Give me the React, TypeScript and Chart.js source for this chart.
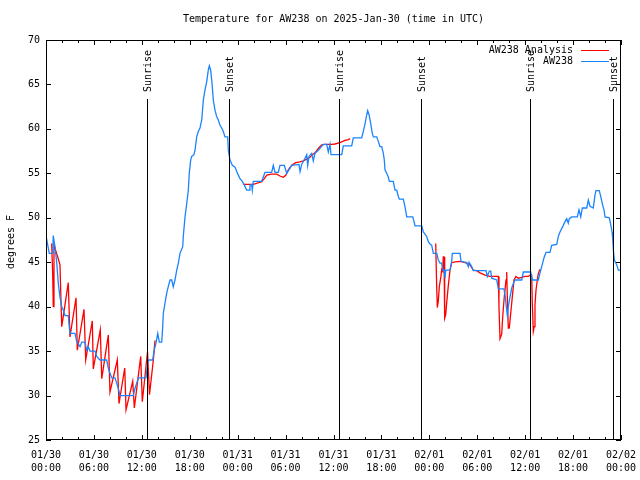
import { useEffect, useRef } from 'react';
import { Chart, registerables } from 'chart.js';

Chart.register(...registerables);

const chartTitle = 'Temperature for AW238 on 2025-Jan-30 (time in UTC)';
const yAxisTitle = 'degrees F';

// x axis: hours since 2025-01-30 00:00 UTC
const xTickHours = [0, 6, 12, 18, 24, 30, 36, 42, 48, 54, 60, 66, 72];
const xTickDates = ['01/30', '01/30', '01/30', '01/30', '01/31', '01/31', '01/31', '01/31', '02/01', '02/01', '02/01', '02/01', '02/02'];
const xTickTimes = ['00:00', '06:00', '12:00', '18:00', '00:00', '06:00', '12:00', '18:00', '00:00', '06:00', '12:00', '18:00', '00:00'];
const yTickValues = [25, 30, 35, 40, 45, 50, 55, 60, 65, 70];

const sunEventLabels = ['Sunrise', 'Sunset', 'Sunrise', 'Sunset', 'Sunrise', 'Sunset'];
const sunEventHours = [12.66, 22.96, 36.7, 47.0, 60.64, 71.04];

const seriesNames = ['AW238 Analysis', 'AW238'];
const seriesColors = ['#ff0000', '#1a84ff'];

// AW238 observations: [hour, degrees F]
const aw238Obs: [number, number][] = [
  [0, 48], [0.41, 46], [0.84, 46], [0.91, 48], [1.13, 46.7], [1.34, 45], [1.54, 42.6], [1.75, 41.1], [1.97, 40], [2.17, 39.6],
  [2.38, 39], [2.79, 39], [2.92, 37.7], [3.01, 37], [3.63, 37], [3.84, 36.1], [4.26, 35.5], [4.47, 36], [4.88, 36], [5.10, 35.1],
  [5.30, 35.5], [5.51, 35], [6.14, 35], [6.35, 34.4], [6.76, 34], [7.60, 34], [7.80, 33.1], [8.01, 32.5], [8.23, 32], [8.64, 32],
  [8.85, 31.4], [9.05, 30.8], [9.27, 30], [10.93, 30], [11.14, 30.8], [11.36, 31.4], [11.56, 32], [12.52, 32], [12.68, 33.2], [12.81, 34],
  [13.36, 34], [13.52, 35], [13.77, 35.9], [13.99, 37], [14.19, 36], [14.49, 36], [14.61, 37.7], [14.69, 39.25], [14.90, 40.4], [15.11, 41.5],
  [15.31, 42.25], [15.53, 43], [15.74, 43], [15.94, 42.25], [16.15, 43], [16.37, 44.1], [16.57, 44.9], [16.78, 46], [17.12, 46.75], [17.19, 47.9],
  [17.41, 50.1], [17.62, 51.6], [17.82, 53.1], [17.94, 55], [18.12, 56.5], [18.24, 56.9], [18.53, 57.1], [18.66, 57.6], [18.87, 59.1], [19.07, 59.7],
  [19.28, 60.1], [19.50, 61], [19.70, 63.25], [19.91, 64.4], [20.12, 65.3], [20.32, 66.6], [20.45, 67.1], [20.62, 66.6], [20.79, 65.1], [20.95, 63.25],
  [21.16, 62.1], [21.37, 61.4], [21.58, 61], [21.79, 60.4], [22.00, 60.1], [22.20, 59.7], [22.41, 59.1], [22.75, 59.1], [22.83, 57.6], [23.04, 56.5],
  [23.33, 55.9], [23.67, 55.7], [23.88, 55.2], [24.08, 54.8], [24.29, 54.4], [24.58, 54.1], [24.83, 53.7], [25.13, 53.1], [25.42, 53.1], [25.54, 53.7],
  [25.76, 53.7], [25.83, 53.1], [25.96, 54.1], [27.01, 54.1], [27.42, 55.1], [28.26, 55.1], [28.46, 55.9], [28.68, 55.1], [29.09, 55.1], [29.30, 55.9],
  [29.84, 55.9], [30.14, 55], [30.77, 55.9], [31.68, 56], [31.81, 55.2], [32.02, 56], [32.43, 56.7], [32.65, 57.1], [32.77, 55.9], [32.93, 56.9],
  [33.27, 57.25], [33.47, 56.4], [33.68, 57.25], [34.10, 57.6], [34.72, 58.25], [35.15, 58.25], [35.35, 57.4], [35.56, 58.25], [35.69, 57.1], [37.03, 57.1],
  [37.23, 58.1], [38.28, 58.1], [38.48, 59], [39.53, 59], [39.73, 59.7], [39.95, 60.6], [40.16, 61.6], [40.28, 62.05], [40.45, 61.6], [40.66, 60.6],
  [40.86, 59.5], [40.99, 59.1], [41.41, 59.1], [41.61, 58.6], [41.82, 58], [42.04, 58], [42.24, 57.25], [42.36, 56.5], [42.45, 55.4], [42.66, 55],
  [42.86, 54.6], [42.99, 54.1], [43.49, 54.1], [43.70, 53.1], [43.92, 53.1], [44.12, 52.4], [44.24, 52.1], [44.74, 52.1], [44.95, 51.25], [45.17, 50.1],
  [45.92, 50.1], [46.08, 49.6], [46.21, 49.1], [47.05, 49.1], [47.25, 48.4], [47.67, 47.9], [47.87, 47.3], [48.09, 47.05], [48.30, 46.9], [48.50, 46],
  [48.93, 46], [49.12, 45.25], [49.34, 44.9], [49.55, 44.9], [49.68, 44.1], [49.88, 44.1], [49.96, 43.2], [50.05, 44.1], [50.59, 44.1], [50.80, 45.1],
  [50.88, 46], [51.84, 46], [51.97, 45.1], [52.68, 44.95], [52.88, 44.5], [52.97, 45], [53.31, 44.5], [53.51, 44.05], [55.10, 44.05], [55.26, 43.4],
  [55.51, 44], [55.69, 44], [55.81, 43.2], [56.44, 43], [56.64, 42], [57.35, 42], [57.48, 41.3], [57.69, 39.6], [57.77, 39], [57.89, 40],
  [58.10, 41.1], [58.32, 42.1], [58.52, 42.6], [58.73, 43], [59.57, 43], [59.77, 43.9], [60.69, 43.9], [60.89, 43], [61.65, 43], [61.86, 43.8],
  [62.07, 44.5], [62.36, 45.5], [62.61, 46.1], [63.11, 46.1], [63.32, 46.9], [63.95, 47], [64.15, 47.9], [64.36, 48.4], [64.70, 49], [64.90, 49.4],
  [65.20, 49.9], [65.40, 49.4], [65.53, 49.9], [65.83, 50.1], [66.53, 50.1], [66.74, 50.9], [66.96, 50.1], [67.16, 51.1], [67.71, 51.1], [67.91, 52],
  [68.12, 51.3], [68.53, 51.1], [68.75, 52.6], [68.87, 53.05], [69.28, 53.05], [69.46, 52.4], [69.71, 51.4], [69.87, 50.9], [70.00, 50.1], [70.54, 50],
  [70.72, 49.2], [70.88, 48.4], [70.97, 47.5], [71.04, 46.4], [71.17, 45.25], [71.47, 44.7], [71.67, 44.1], [72, 44.1],
];

// AW238 Analysis, three separate periods: [hour, degrees F]
const analysisNight1: [number, number][] = [
  [0.71, 47.1], [0.84, 43.6], [0.91, 40], [1.0, 47], [1.25, 46.2], [1.5, 45.5], [1.75, 44.7], [1.97, 37.75], [2.79, 42.7], [3.0, 36.6],
  [3.76, 41.0], [3.92, 35.1], [4.76, 39.7], [4.97, 34.0], [5.8, 38.4], [5.92, 33.0], [6.8, 37.4], [6.98, 31.9], [7.8, 36.8], [8.01, 30.4],
  [8.93, 34.0], [9.14, 29.1], [9.86, 33.1], [10.02, 28.4], [10.86, 31.6], [11.06, 28.6], [11.86, 34.4], [12.06, 29.3], [12.71, 34.9], [12.96, 30.1],
  [13.44, 34], [13.65, 36.2],
];
const analysisNight2: [number, number][] = [
  [24.71, 53.75], [25.96, 53.75], [27.01, 54.05], [27.34, 54.4], [27.64, 54.8], [28.26, 54.9], [28.89, 54.9], [29.30, 54.7], [29.71, 54.55], [30.05, 54.8],
  [30.34, 55.4], [30.77, 55.9], [31.27, 56.2], [31.81, 56.3], [32.22, 56.4], [32.65, 56.6], [33.06, 56.8], [33.35, 57.1], [33.68, 57.3], [34.10, 57.8],
  [34.52, 58.2], [34.94, 58.25], [35.78, 58.25], [36.19, 58.3], [36.81, 58.45], [37.44, 58.7], [37.85, 58.8], [38.07, 58.9],
];
const analysisNight3: [number, number][] = [
  [48.80, 47.1], [48.92, 42.25], [49.00, 39.9], [49.12, 40.6], [49.25, 42.25], [49.42, 43.2], [49.55, 44.2], [49.67, 44.0], [49.75, 45.6], [49.84, 45.6],
  [49.88, 42.25], [49.96, 38.7], [50.05, 39.1], [50.17, 40.4], [50.38, 42.4], [50.59, 44.1], [50.80, 44.95], [51.21, 45.05], [51.84, 45.1], [52.25, 45.0],
  [52.68, 44.9], [53.09, 44.7], [53.51, 44.1], [53.93, 44.05], [54.35, 43.8], [54.97, 43.55], [55.60, 43.4], [56.22, 43.4], [56.64, 43.4], [56.72, 40.0],
  [56.85, 36.4], [57.06, 36.9], [57.19, 38.9], [57.35, 40.75], [57.60, 43.0], [57.69, 43.9], [57.76, 41.3], [57.89, 37.6], [58.01, 37.6], [58.19, 39.25],
  [58.39, 41.1], [58.60, 43.0], [58.85, 43.4], [59.14, 43.2], [59.57, 43.3], [59.98, 43.4], [60.39, 43.4], [60.61, 43.55], [60.82, 43.55], [60.89, 40.4],
  [61.02, 37.2], [61.14, 37.75], [61.23, 40.2], [61.36, 41.9], [61.52, 43.0], [61.65, 43.75], [61.86, 44.2],
];

const FONT = '10px "DejaVu Sans Mono"';

const toPoints = (arr: [number, number][]) => arr.map(([x, y]) => ({ x, y }));

const gnuplotDecor = {
  id: 'gnuplotDecor',
  afterDraw(chart: any) {
    const { ctx, chartArea: a, scales } = chart;
    const xs = scales.x;
    const ys = scales.y;
    ctx.save();
    ctx.strokeStyle = '#000';
    ctx.fillStyle = '#000';
    ctx.lineWidth = 1;
    ctx.font = FONT;

    // frame
    ctx.strokeRect(a.left + 0.5, a.top + 0.5, a.right - a.left - 1, a.bottom - a.top - 1);

    // x ticks (major every 6 h, minor every 2 h), mirrored on top
    ctx.beginPath();
    for (let h = 0; h <= 72; h += 2) {
      const len = h % 6 === 0 ? 5 : 3;
      const px = Math.round(xs.getPixelForValue(h)) + 0.5;
      ctx.moveTo(px, a.bottom);
      ctx.lineTo(px, a.bottom - len);
      ctx.moveTo(px, a.top);
      ctx.lineTo(px, a.top + len);
    }
    // y ticks, mirrored on right
    yTickValues.forEach((v) => {
      const py = Math.round(ys.getPixelForValue(v)) + 0.5;
      ctx.moveTo(a.left, py);
      ctx.lineTo(a.left + 5, py);
      ctx.moveTo(a.right, py);
      ctx.lineTo(a.right - 5, py);
    });
    ctx.stroke();

    // sunrise / sunset markers
    sunEventHours.forEach((h, i) => {
      const px = Math.round(xs.getPixelForValue(h)) + 0.5;
      ctx.beginPath();
      ctx.moveTo(px, a.top + 59);
      ctx.lineTo(px, a.bottom);
      ctx.stroke();
      ctx.save();
      ctx.translate(px + 1, a.top + 52);
      ctx.rotate(-Math.PI / 2);
      ctx.textAlign = 'left';
      ctx.textBaseline = 'middle';
      ctx.fillText(sunEventLabels[i], 0, 0);
      ctx.restore();
    });

    // legend (inside, top right)
    ctx.textAlign = 'right';
    ctx.textBaseline = 'middle';
    seriesNames.forEach((name, i) => {
      const yy = a.top + 10 + i * 11;
      ctx.fillStyle = '#000';
      ctx.fillText(name, a.right - 48, yy);
      ctx.strokeStyle = seriesColors[i];
      ctx.beginPath();
      ctx.moveTo(a.right - 40, yy + 0.5);
      ctx.lineTo(a.right - 12, yy + 0.5);
      ctx.stroke();
    });

    // title
    ctx.fillStyle = '#000';
    ctx.textAlign = 'center';
    ctx.fillText(chartTitle, (a.left + a.right) / 2, 19);

    // y axis title
    ctx.save();
    ctx.translate(11, (a.top + a.bottom) / 2 + 2);
    ctx.rotate(-Math.PI / 2);
    ctx.textAlign = 'center';
    ctx.textBaseline = 'middle';
    ctx.fillText(yAxisTitle, 0, 0);
    ctx.restore();

    ctx.restore();
  },
};

export default function App() {
  const canvasRef = useRef<HTMLCanvasElement | null>(null);

  useEffect(() => {
    if (!canvasRef.current) return;
    const analysisData: any[] = [
      ...toPoints(analysisNight1),
      { x: 18, y: null },
      ...toPoints(analysisNight2),
      { x: 43, y: null },
      ...toPoints(analysisNight3),
    ];
    const chart = new Chart(canvasRef.current, {
      type: 'line',
      data: {
        datasets: [
          {
            label: seriesNames[1],
            data: toPoints(aw238Obs),
            borderColor: seriesColors[1],
            borderWidth: 1.3,
            pointRadius: 0,
            tension: 0,
            fill: false,
          },
          {
            label: seriesNames[0],
            data: analysisData,
            borderColor: seriesColors[0],
            borderWidth: 1.3,
            pointRadius: 0,
            tension: 0,
            fill: false,
            spanGaps: false,
          },
        ],
      },
      options: {
        responsive: false,
        animation: false,
        events: [],
        layout: { padding: { top: 40, right: 19, left: 0, bottom: 0 } },
        plugins: {
          legend: { display: false },
          tooltip: { enabled: false },
          title: { display: false },
        },
        scales: {
          x: {
            type: 'linear',
            min: 0,
            max: 72,
            grid: { display: false, drawTicks: false },
            border: { display: false },
            afterBuildTicks: (scale: any) => {
              scale.ticks = xTickHours.map((v) => ({ value: v }));
            },
            afterFit: (scale: any) => {
              scale.height = 40;
              scale.paddingLeft = 0;
              scale.paddingRight = 0;
            },
            ticks: {
              autoSkip: false,
              maxRotation: 0,
              minRotation: 0,
              padding: 9,
              color: '#000',
              font: { family: 'DejaVu Sans Mono', size: 10, lineHeight: 1.3 },
              callback: (value: any) => {
                const i = xTickHours.indexOf(Number(value));
                return i >= 0 ? [xTickDates[i], xTickTimes[i]] : '';
              },
            },
          },
          y: {
            type: 'linear',
            min: 25,
            max: 70,
            grid: { display: false, drawTicks: false },
            border: { display: false },
            afterBuildTicks: (scale: any) => {
              scale.ticks = yTickValues.map((v) => ({ value: v }));
            },
            afterFit: (scale: any) => {
              scale.width = 46;
              scale.paddingTop = 0;
              scale.paddingBottom = 0;
            },
            ticks: {
              padding: 6,
              color: '#000',
              font: { family: 'DejaVu Sans Mono', size: 10 },
            },
          },
        },
      },
      plugins: [gnuplotDecor],
    });
    return () => chart.destroy();
  }, []);

  return (
    <div style={{ position: 'fixed', left: 0, top: 0, width: 640, height: 480, background: '#fff' }}>
      <canvas ref={canvasRef} width={640} height={480} style={{ width: 640, height: 480 }} />
    </div>
  );
}
